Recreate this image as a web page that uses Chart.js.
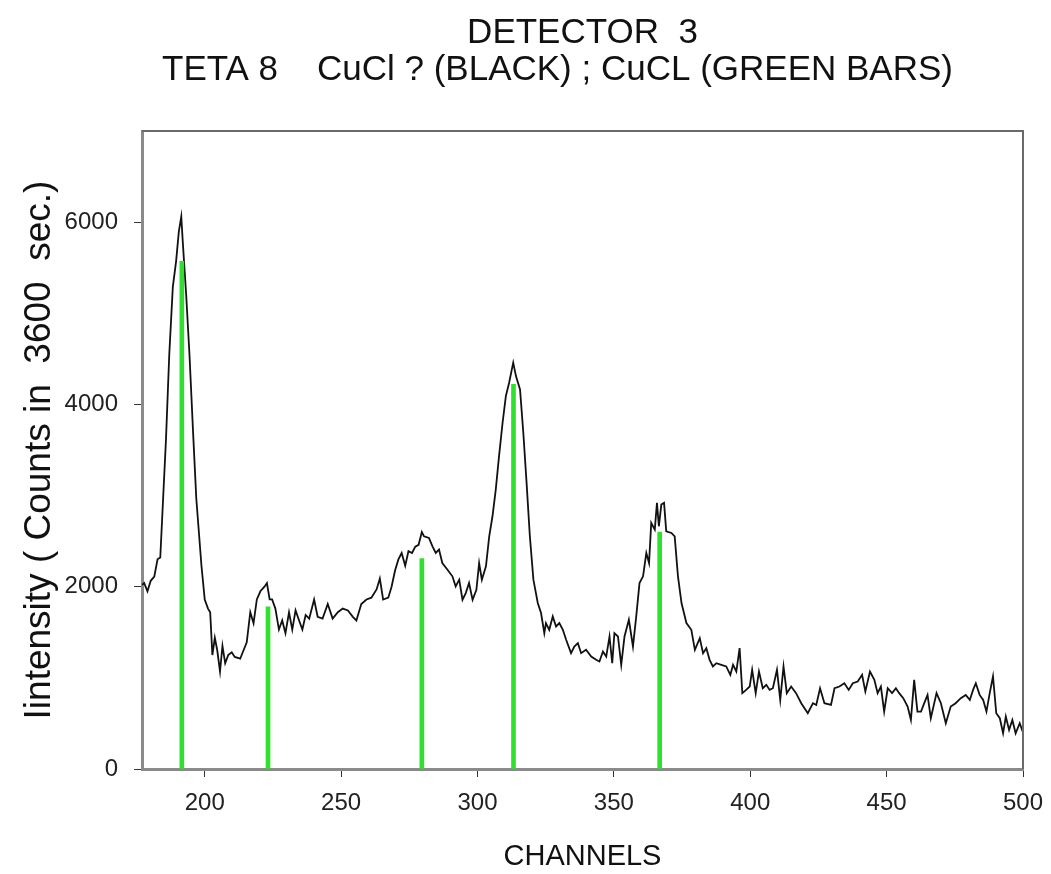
<!DOCTYPE html>
<html>
<head>
<meta charset="utf-8">
<script src="https://cdn.jsdelivr.net/npm/chart.js@4.4.0/dist/chart.umd.min.js"></script>
<style>
  body { margin: 0; background: #fff; }
</style>
</head>
<body>
<canvas id="grafico" width="1051" height="874"></canvas>
<script>
// channel / counts
const channels = [177,177.8,179,180.2,181.5,182.7,183.7,184.6,185.8,187,188.3,189.5,190.5,191.4,192,193.2,194.4,195.7,196.9,198.8,
  200,201.2,202,202.8,203.7,204.6,205.6,206.5,207.5,208.6,209.9,211,213,214.2,215.4,216.7,217.9,219.1,220.4,221.9,
  222.8,223.8,224.7,225.9,227.2,228.4,229.6,230.9,232.1,233.3,234.6,235.8,237,238.3,240.1,241.4,243.2,245.1,246.9,248.8,
  250.6,252.5,254.3,255.6,257.4,259.3,261.1,263,264.2,265.4,267.3,268.5,269.8,271,272.2,273.5,274.7,276,277.2,278.4,279.6,
  280.4,282.2,283.5,284.7,285.9,287.1,289,290.8,292,293.3,294.5,295.7,296.9,298.2,299.6,300.6,301.6,303.1,304.3,305.5,
  306.7,307.9,309.2,310.4,311.6,313.1,314.1,315.6,316.8,318,319.2,320.5,322.1,323.3,324.5,325.1,326.3,327.6,328.8,330,
  331.3,332.5,334.3,335.5,336.8,338,339.8,341.7,343.5,344.7,346,347.2,348.4,349.4,350.2,351.5,352.7,353.9,355.5,357,
  358.2,359.4,360.7,361.9,362.9,363.7,365,365.8,366.5,367.4,368.4,369.2,371.1,372.3,373.5,374.8,376.6,378.4,379.7,
  381.5,382.7,383.9,385.1,386.3,387.6,389.4,391.2,392.7,393.7,394.9,396.1,397.1,398.5,399.8,400.7,402,403.2,404.6,405.9,
  407.1,408.3,409.8,411,412.2,413.4,415,416.8,418.7,421.1,423,424.2,425.6,427.2,429.6,430.9,432.7,434.5,436.1,437.6,
  439.4,441,442.2,443.9,445.5,446.7,447.9,449.1,450.4,452,453.4,454.6,456.1,457.7,458.9,460.1,461.3,462.6,463.8,465,
  466.2,468.3,469.9,471.7,473.5,475.3,477.2,479,480.5,481.7,482.7,484.1,485.4,486.6,487.8,489,490.2,491.5,492.7,493.7,
  494.9,496.1,497.3,498.8,500];
const counts = [2020,2040,1950,2065,2110,2300,2320,2880,3620,4550,5290,5570,5895,6060,5760,5200,4550,3710,2970,2230,
  1860,1760,1720,1250,1440,1300,1070,1350,1160,1250,1280,1230,1210,1300,1390,1720,1600,1860,1950,2000,
  2040,1860,1860,1760,1530,1630,1490,1720,1530,1740,1630,1530,1690,1650,1860,1670,1650,1810,1650,1720,
  1760,1740,1670,1630,1810,1860,1880,1970,2090,1860,1880,2000,2180,2300,2370,2230,2390,2370,2440,2460,2600,
  2553,2535,2443,2370,2407,2260,2187,2114,2004,2077,1857,1930,2040,1857,1967,2260,2077,2223,2553,2773,
  3066,3432,3799,4092,4238,4458,4311,4165,3689,3139,2553,2077,1821,1711,1491,1601,1527,1674,1564,1601,
  1527,1418,1271,1344,1381,1271,1308,1234,1198,1180,1289,1234,1454,1161,1491,1454,1143,1454,1637,1344,
  1674,2040,2114,2370,2260,2700,2626,2920,2663,2901,2920,2608,2590,2553,2114,1821,1601,1527,1308,
  1436,1271,1326,1198,1125,1161,1143,1125,1033,1143,1070,1326,832,868,905,1088,832,1070,886,923,
  868,886,1088,758,1125,832,905,832,722,612,722,703,886,722,703,886,905,941,868,941,
  960,1033,850,1070,978,832,905,630,886,832,886,832,777,685,539,978,630,630,722,813,
  557,832,722,502,685,722,777,813,758,868,941,813,758,630,832,1015,612,557,392,575,
  429,538,392,502,400];

// CuCl reference lines (green bars)
const barChannels = [191.6, 223.2, 279.6, 313.2, 366.8];
const barHeights = [5570, 1780, 2310, 4220, 2600];

const xTicks = [200, 250, 300, 350, 400, 450, 500];
const yTicks = [0, 2000, 4000, 6000];
const titulo = ['DETECTOR  3', 'TETA 8    CuCl ? (BLACK) ; CuCL (GREEN BARS)'];

const fonte = '"Liberation Sans", Arial, sans-serif';

const moldura = {
  id: 'moldura',
  afterDraw(chart) {
    const { ctx, chartArea: a } = chart;
    ctx.save();
    ctx.strokeStyle = '#6a6a6a';
    ctx.lineWidth = 2;
    ctx.beginPath();
    ctx.moveTo(a.left, a.top);
    ctx.lineTo(a.right, a.top);
    ctx.lineTo(a.right, a.bottom);
    ctx.stroke();
    // title over the plot area (second line sits a bit left in the original)
    ctx.fillStyle = '#111';
    ctx.font = '35px ' + fonte;
    ctx.textAlign = 'center';
    ctx.textBaseline = 'alphabetic';
    const cx = (a.left + a.right) / 2;
    ctx.fillText(titulo[0], cx, 43);
    ctx.fillText(titulo[1], cx - 25, 80);
    ctx.restore();
  }
};

const ctx = document.getElementById('grafico').getContext('2d');
new Chart(ctx, {
  type: 'line',
  data: {
    datasets: [
      {
        type: 'bar',
        data: barChannels.map((c, i) => ({ x: c, y: barHeights[i] })),
        backgroundColor: '#2fe02f',
        barThickness: 4,
        order: 0
      },
      {
        type: 'line',
        data: channels.map((c, i) => ({ x: c, y: counts[i] })),
        borderColor: '#111',
        borderWidth: 1.8,
        pointRadius: 0,
        tension: 0,
        order: 1
      }
    ]
  },
  options: {
    responsive: false,
    animation: false,
    layout: { padding: { left: 18, right: 28, top: 131, bottom: 0 } },
    plugins: { legend: { display: false }, tooltip: { enabled: false } },
    scales: {
      x: {
        type: 'linear',
        min: 177,
        max: 500,
        offset: false,
        afterBuildTicks: s => { s.ticks = xTicks.map(v => ({ value: v })); },
        afterFit: s => { s.height = 105; s.paddingRight = 0; s.paddingLeft = 0; },
        ticks: { font: { size: 24, family: fonte }, color: '#222', padding: 12, maxRotation: 0, callback: v => String(v) },
        grid: { drawOnChartArea: false, offset: false, tickLength: 8, color: '#333' },
        border: { color: '#8a8a8a', width: 3 },
        title: { display: true, text: 'CHANNELS', font: { size: 29, family: fonte }, color: '#111', padding: 0 }
      },
      y: {
        min: 0,
        max: 7000,
        afterBuildTicks: s => { s.ticks = yTicks.map(v => ({ value: v })); },
        afterFit: s => { s.width = 124; },
        ticks: { font: { size: 24, family: fonte }, color: '#222', padding: 16, callback: v => String(v) },
        grid: { drawOnChartArea: false, offset: false, tickLength: 8, color: '#333' },
        border: { color: '#8a8a8a', width: 3 },
        title: { display: true, text: 'Iintensity ( Counts in  3600  sec.)', font: { size: 37, family: fonte }, color: '#111', padding: 0 }
      }
    }
  },
  plugins: [moldura]
});
</script>
</body>
</html>
